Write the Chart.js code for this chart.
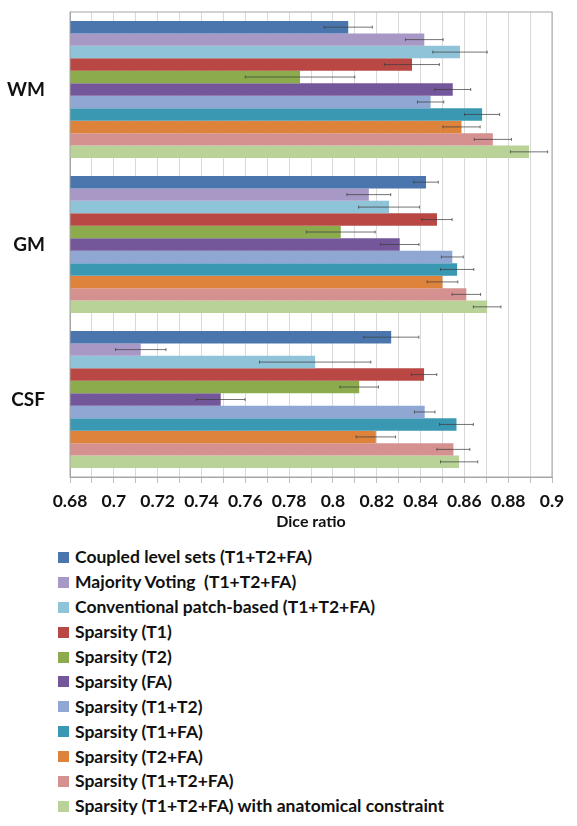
<!DOCTYPE html>
<html>
<head>
<meta charset="utf-8">
<script src="https://cdn.jsdelivr.net/npm/chart.js@4.4.1/dist/chart.umd.min.js"></script>
<style>
  html, body { margin: 0; padding: 0; background: #fff; }
  #wrap { position: relative; width: 577px; height: 531px; }
  #legend { position: absolute; left: 58px; top: 545px; font-family: Lato, "Open Sans", sans-serif; font-weight: bold; font-size: 17.5px; color: #111; }
  .li { height: 24.9px; line-height: 20px; display: flex; align-items: center; white-space: pre; }
  .sw { width: 11px; height: 11px; margin-right: 6px; flex: none; }
</style>
</head>
<body>
<div id="wrap"><canvas id="c" width="577" height="531"></canvas></div>
<div id="legend"></div>
<script>
const categories = ["WM", "GM", "CSF"];
const seriesNames = [
  "Coupled level sets (T1+T2+FA)",
  "Majority Voting  (T1+T2+FA)",
  "Conventional patch-based (T1+T2+FA)",
  "Sparsity (T1)",
  "Sparsity (T2)",
  "Sparsity (FA)",
  "Sparsity (T1+T2)",
  "Sparsity (T1+FA)",
  "Sparsity (T2+FA)",
  "Sparsity (T1+T2+FA)",
  "Sparsity (T1+T2+FA) with anatomical constraint"
];
const seriesColors = ["#4a76ad","#a898c6","#8fc3d8","#b94845","#8cab4d","#74569a","#91a7d3","#3b98b3","#de833b","#d59190","#b8d297"];
// values per series: [WM, GM, CSF]
const coupled      = [0.807, 0.8425, 0.8266];
const majority     = [0.8417, 0.8164, 0.7123];
const conventional = [0.858, 0.8256, 0.7919];
const spT1         = [0.8361, 0.8475, 0.8416];
const spT2         = [0.785, 0.8036, 0.812];
const spFA         = [0.8547, 0.8305, 0.7488];
const spT1T2       = [0.8446, 0.8545, 0.8419];
const spT1FA       = [0.8681, 0.8567, 0.8564];
const spT2FA       = [0.8587, 0.850, 0.8196];
const spT1T2FA     = [0.873, 0.8609, 0.855];
const spAnat       = [0.8895, 0.8704, 0.8576];
// error (± std) per series: [WM, GM, CSF]
const errCoupled      = [0.011, 0.0056, 0.0126];
const errMajority     = [0.0086, 0.010, 0.0115];
const errConventional = [0.0124, 0.0139, 0.0254];
const errT1           = [0.0125, 0.0069, 0.0058];
const errT2           = [0.025, 0.0157, 0.0088];
const errFA           = [0.0082, 0.0088, 0.0111];
const errT1T2         = [0.006, 0.005, 0.0047];
const errT1FA         = [0.008, 0.0076, 0.0077];
const errT2FA         = [0.0085, 0.007, 0.009];
const errT1T2FA       = [0.0085, 0.0065, 0.0075];
const errAnat         = [0.0085, 0.0063, 0.0085];

const seriesValues = [coupled, majority, conventional, spT1, spT2, spFA, spT1T2, spT1FA, spT2FA, spT1T2FA, spAnat];
const seriesErrors = [errCoupled, errMajority, errConventional, errT1, errT2, errFA, errT1T2, errT1FA, errT2FA, errT1T2FA, errAnat];

const errorBars = {
  id: 'errorBars',
  afterDatasetsDraw(chart) {
    const ctx = chart.ctx;
    const xs = chart.scales.x;
    ctx.save();
    ctx.strokeStyle = 'rgba(60,60,60,0.9)';
    ctx.lineWidth = 0.8;
    chart.data.datasets.forEach((ds, di) => {
      const meta = chart.getDatasetMeta(di);
      meta.data.forEach((bar, i) => {
        const v = ds.data[i], e = ds.errors[i];
        const x1 = xs.getPixelForValue(v - e), x2 = xs.getPixelForValue(v + e);
        const y = bar.y;
        ctx.beginPath();
        ctx.moveTo(x1, y); ctx.lineTo(x2, y);
        ctx.moveTo(x1, y - 1.5); ctx.lineTo(x1, y + 1.5);
        ctx.moveTo(x2, y - 1.5); ctx.lineTo(x2, y + 1.5);
        ctx.stroke();
      });
    });
    ctx.restore();
  }
};

const chart = new Chart(document.getElementById('c'), {
  type: 'bar',
  data: {
    labels: categories,
    datasets: seriesNames.map((n, k) => ({
      label: n,
      data: seriesValues[k],
      errors: seriesErrors[k],
      backgroundColor: seriesColors[k],
      borderWidth: 0,
      barPercentage: 1.0,
      categoryPercentage: 0.885
    }))
  },
  options: {
    indexAxis: 'y',
    responsive: false,
    animation: false,
    layout: { padding: { top: 0, right: 25, left: 0, bottom: 0 } },
    plugins: { legend: { display: false }, tooltip: { enabled: false } },
    scales: {
      x: {
        min: 0.68, max: 0.9,
        border: { color: '#a6a6a6' },
        grid: { color: '#d9d9d9', tickLength: 6, tickColor: '#bfbfbf' },
        afterFit(scale) { scale.height = 54; },
        ticks: {
          stepSize: 0.01,
          autoSkip: false,
          maxRotation: 0,
          color: '#111',
          font: { family: 'Lato, "Open Sans", sans-serif', size: 17.5, weight: 'bold' },
          padding: 8,
          callback: (v) => {
            const h = Math.round(v * 100);
            return h % 2 === 0 ? String(h / 100) : '';
          }
        },
        title: { display: true, text: 'Dice ratio', color: '#111', padding: { top: 0, bottom: 0 },
                 font: { family: 'Lato, "Open Sans", sans-serif', size: 16, weight: 'bold' } }
      },
      y: {
        border: { color: '#a6a6a6' },
        grid: { display: false },
        afterFit(scale) {
          scale.width = 70;
          scale.paddingTop = 12;
          scale.paddingBottom = 0;
        },
        ticks: {
          color: '#111', padding: 17,
          font: { family: 'Lato, "Open Sans", sans-serif', size: 19, weight: 'bold' }
        }
      }
    }
  },
  plugins: [errorBars, {
    id: 'frame',
    afterDraw(c) {
      const a = c.chartArea, ctx = c.ctx;
      ctx.save(); ctx.strokeStyle = '#a6a6a6'; ctx.lineWidth = 1;
      ctx.strokeRect(a.left, a.top, a.right - a.left, a.bottom - a.top);
      ctx.restore();
    }
  }]
});

const leg = document.getElementById('legend');
chart.data.datasets.forEach(ds => {
  const d = document.createElement('div'); d.className = 'li';
  const s = document.createElement('span'); s.className = 'sw'; s.style.background = ds.backgroundColor;
  const t = document.createElement('span'); t.textContent = ds.label;
  d.appendChild(s); d.appendChild(t); leg.appendChild(d);
});
</script>
</body>
</html>
